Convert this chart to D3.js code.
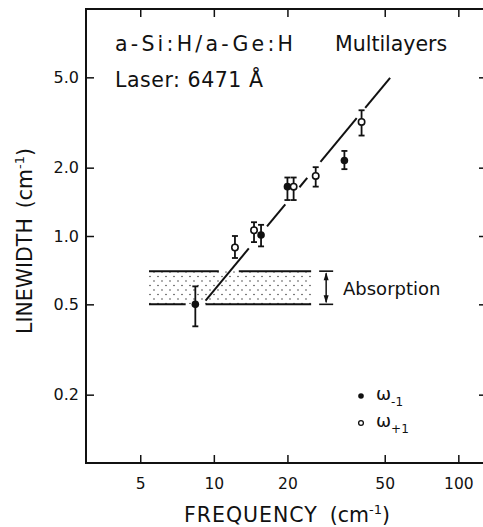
<!DOCTYPE html>
<html><head><meta charset="utf-8">
<script src="https://cdn.jsdelivr.net/npm/d3@7"></script>
<style>
body{margin:0;background:#fff}
text{font-family:"DejaVu Sans",sans-serif;fill:#111}
</style>
</head><body><svg id="c" width="483" height="527"></svg>
<script>
// ω-1 (filled) points
const minusFreq  = [8.4, 15.6, 20.0, 34.2];
const minusWidth = [0.50, 1.01, 1.65, 2.15];
const minusLow   = [0.40, 0.90, 1.44, 1.97];
const minusHigh  = [0.60, 1.12, 1.81, 2.37];
// ω+1 (open) points
const plusFreq  = [12.2, 14.6, 21.2, 26.1, 40.2];
const plusWidth = [0.89, 1.06, 1.65, 1.84, 3.18];
const plusLow   = [0.80, 0.94, 1.44, 1.65, 2.77];
const plusHigh  = [1.00, 1.15, 1.81, 2.01, 3.58];
// power-law fit: width = coef * freq^exp, drawn in broken pieces
const fitCoef = 0.0288, fitExp = 1.3;
const fitSegments = [[9.25,13.9],[16.5,19.6],[22.4,24.1],[27.3,38.4],[41.6,52.6]];
// absorption band
const bandFreq = [5.43, 25.0];
const bandWidth = [0.5, 0.7];
const bandTopPieces = [[5.43,10.48],[12.65,25.0]];
const bandBottomPieces = [[5.43,7.67],[9.25,25.0]];
const bandArrowFreq = 28.8;
// ticks
const xTicks = [5,10,20,50,100];
const yTicks = [0.2,0.5,1.0,2.0,5.0];

const svg = d3.select("#c");
const L=86, R=487, T=9, B=463;
const x = d3.scaleLog().domain([3,131]).range([L,R]);
const y = d3.scaleLog().domain([0.1,10]).range([B,T]);

const defs = svg.append("defs");
const pat = defs.append("pattern").attr("id","stip").attr("patternUnits","userSpaceOnUse")
  .attr("width",8).attr("height",9);
pat.append("circle").attr("cx",2).attr("cy",2).attr("r",0.7).attr("fill","#222");
pat.append("circle").attr("cx",6).attr("cy",6.5).attr("r",0.7).attr("fill","#222");

// band
svg.append("rect").attr("x",x(bandFreq[0])).attr("y",y(bandWidth[1]))
  .attr("width",x(bandFreq[1])-x(bandFreq[0])).attr("height",y(bandWidth[0])-y(bandWidth[1]))
  .attr("fill","url(#stip)");
function hpieces(pieces, val){
  pieces.forEach(p=>svg.append("line").attr("x1",x(p[0])).attr("x2",x(p[1]))
    .attr("y1",y(val)).attr("y2",y(val)).attr("stroke","#111").attr("stroke-width",2));
}
hpieces(bandTopPieces, bandWidth[1]);
hpieces(bandBottomPieces, bandWidth[0]);
// arrow
const ax = x(bandArrowFreq);
[bandWidth[0], bandWidth[1]].forEach(v=>svg.append("line").attr("x1",ax-7).attr("x2",ax+7)
  .attr("y1",y(v)).attr("y2",y(v)).attr("stroke","#111").attr("stroke-width",1.6));
svg.append("line").attr("x1",ax).attr("x2",ax).attr("y1",y(bandWidth[1])+2).attr("y2",y(bandWidth[0])-2)
  .attr("stroke","#111").attr("stroke-width",1.5);
const yt=y(bandWidth[1]), yb=y(bandWidth[0]);
svg.append("path").attr("d",`M${ax},${yt+1}L${ax-2.5},${yt+9}L${ax+2.5},${yt+9}Z`).attr("fill","#111");
svg.append("path").attr("d",`M${ax},${yb-1}L${ax-2.5},${yb-9}L${ax+2.5},${yb-9}Z`).attr("fill","#111");
svg.append("text").attr("x",343).attr("y",(y(bandWidth[0])+y(bandWidth[1]))/2+7)
  .attr("font-size",18).text("Absorption");

// fit line
const fitLine = d3.line().x(d=>x(d)).y(d=>y(fitCoef*Math.pow(d,fitExp)));
fitSegments.forEach(s=>svg.append("path").attr("d",fitLine(s)).attr("fill","none")
  .attr("stroke","#111").attr("stroke-width",2));

// error bars + points
function drawSeries(fx, fy, lo, hi, filled){
  fx.forEach((f,i)=>{
    const cx=x(f);
    svg.append("line").attr("x1",cx).attr("x2",cx).attr("y1",y(lo[i])).attr("y2",y(hi[i]))
      .attr("stroke","#111").attr("stroke-width",1.8);
    [lo[i],hi[i]].forEach(v=>svg.append("line").attr("x1",cx-3).attr("x2",cx+3)
      .attr("y1",y(v)).attr("y2",y(v)).attr("stroke","#111").attr("stroke-width",1.8));
    svg.append("circle").attr("cx",cx).attr("cy",y(fy[i]))
      .attr("r",filled?3.8:3.2).attr("fill",filled?"#111":"#fff")
      .attr("stroke","#111").attr("stroke-width",filled?0:1.6);
  });
}
drawSeries(minusFreq,minusWidth,minusLow,minusHigh,true);
drawSeries(plusFreq,plusWidth,plusLow,plusHigh,false);

// axes
const gx = svg.append("g").attr("transform",`translate(0,${B})`)
  .call(d3.axisBottom(x).tickValues(xTicks).tickFormat(d3.format("d")).tickSizeInner(-8).tickSizeOuter(0).tickPadding(15));
const gy = svg.append("g").attr("transform",`translate(${L},0)`)
  .call(d3.axisLeft(y).tickValues(yTicks).tickFormat(d3.format(".1f")).tickSizeInner(-8).tickSizeOuter(0).tickPadding(7));
const gt = svg.append("g").attr("transform",`translate(0,${T})`)
  .call(d3.axisTop(x).tickValues(xTicks).tickFormat("").tickSizeInner(-8).tickSizeOuter(0));
const gr = svg.append("g").attr("transform",`translate(${R},0)`)
  .call(d3.axisRight(y).tickValues(yTicks).tickFormat("").tickSizeInner(-8).tickSizeOuter(0));
[gx,gy,gt,gr].forEach(g=>{
  g.select(".domain").remove();
  g.selectAll(".tick line").attr("stroke","#111").attr("stroke-width",1.5);
  g.selectAll("text").attr("font-family","DejaVu Sans, sans-serif").attr("fill","#111");
});
gx.selectAll("text").attr("font-size",15.5);
gy.selectAll("text").attr("font-size",16);
svg.append("rect").attr("x",L).attr("y",T).attr("width",R-L).attr("height",B-T)
  .attr("fill","none").attr("stroke","#111").attr("stroke-width",2);

// titles
svg.append("text").attr("x",115).attr("y",51).attr("font-size",20.5)
  .attr("textLength",178).attr("lengthAdjust","spacing").text("a-Si:H/a-Ge:H");
svg.append("text").attr("x",335).attr("y",51).attr("font-size",20.5).text("Multilayers");
svg.append("text").attr("x",115).attr("y",87).attr("font-size",20.5)
  .attr("textLength",148).attr("lengthAdjust","spacing").text("Laser: 6471 Å");

// axis labels
const xl = svg.append("text").attr("x",287).attr("y",522).attr("text-anchor","middle").attr("font-size",20.5);
xl.append("tspan").attr("letter-spacing",1).text("FREQUENCY");
xl.append("tspan").attr("dx",12).text("(cm");
xl.append("tspan").attr("dy",-8).attr("font-size",13).text("-1");
xl.append("tspan").attr("dy",8).text(")");
const yl = svg.append("text").attr("transform","translate(32,241) rotate(-90)").attr("text-anchor","middle").attr("font-size",20.5);
yl.append("tspan").text("LINEWIDTH");
yl.append("tspan").attr("dx",10).text("(cm");
yl.append("tspan").attr("dy",-8).attr("font-size",13).text("-1");
yl.append("tspan").attr("dy",8).text(")");

// legend
const legend = [{filled:true, sub:"-1", yy:396},{filled:false, sub:"+1", yy:423}];
legend.forEach(d=>{
  svg.append("circle").attr("cx",361).attr("cy",d.yy).attr("r",d.filled?2.8:2.4)
    .attr("fill",d.filled?"#111":"#fff").attr("stroke","#111").attr("stroke-width",d.filled?0:1.3);
  const t = svg.append("text").attr("x",376).attr("y",d.yy+4).attr("font-size",18);
  t.append("tspan").text("ω");
  t.append("tspan").attr("dy",6).attr("font-size",12).text(d.sub);
});
</script></body></html>
